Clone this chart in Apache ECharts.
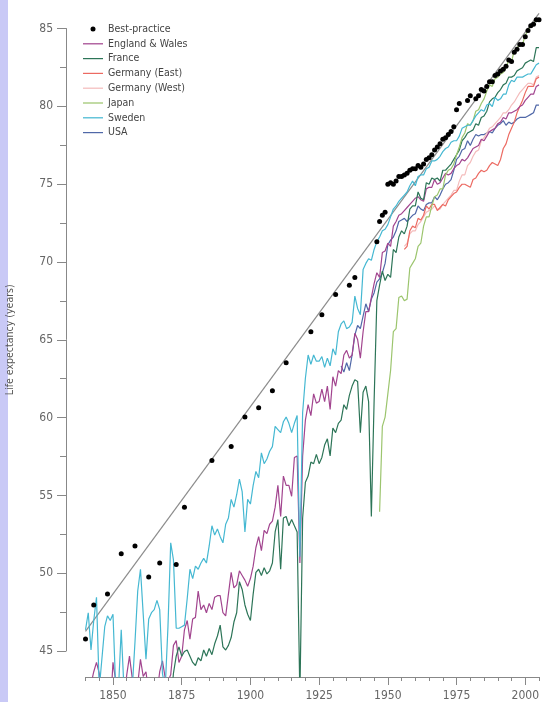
<!DOCTYPE html>
<html>
<head>
<meta charset="utf-8">
<title>Life expectancy</title>
<script src="https://cdn.jsdelivr.net/npm/echarts@6/dist/echarts.min.js"></script>
<style>
html, body { margin: 0; padding: 0; background: #fff; }
#main { width: 542px; height: 702px; }
</style>
</head>
<body>
<div id="main"></div>
<script>
// 刻度
var xMajor = [1850, 1875, 1900, 1925, 1950, 1975, 2000];

// 最佳实践（纪录）
var bestYears = [1840, 1843, 1848, 1853, 1858, 1863, 1867, 1873, 1876, 1886, 1893, 1898, 1903, 1908, 1913,
	1922, 1926, 1931, 1936, 1938, 1946, 1947, 1948, 1949,
	1950, 1951, 1952, 1953, 1954, 1955, 1956, 1957, 1958, 1959, 1960, 1961, 1962, 1963, 1964, 1965, 1966,
	1967, 1968, 1969, 1970, 1971, 1972, 1973, 1974, 1975, 1976, 1979, 1980, 1982, 1983, 1984,
	1985, 1986, 1987, 1988, 1989, 1990, 1991, 1992, 1993, 1994, 1995, 1996, 1997, 1998, 1999, 2000,
	2001, 2002, 2003, 2004, 2005];
var bestValues = [45.7, 47.9, 48.6, 51.2, 51.7, 49.7, 50.6, 50.5, 54.2, 57.2, 58.1, 60.0, 60.6, 61.7, 63.5,
	65.5, 66.6, 67.9, 68.5, 69.0, 71.3, 72.6, 73.0, 73.2,
	75.0, 75.1, 75.0, 75.2, 75.5, 75.5, 75.6, 75.7, 75.9, 76.0, 76.0, 76.2, 76.1, 76.3, 76.6, 76.7, 76.9,
	77.2, 77.4, 77.6, 77.9, 78.0, 78.2, 78.4, 78.7, 79.8, 80.2, 80.4, 80.7, 80.5, 80.7, 81.1,
	81.0, 81.3, 81.6, 81.6, 82.0, 82.1, 82.3, 82.4, 82.6, 83.0, 82.9, 83.5, 83.7, 84.0, 84.0, 84.5,
	84.9, 85.2, 85.3, 85.6, 85.6];

// 线性趋势（两端）
var trendYears = [1840, 2005];
var trendValues = [46.2, 86.0];

// 各国（按年，自起始年开始）
var englandStart = 1841;
var england = [42.5, 42.8, 43.6, 44.2, 43.5, 42.0, 41.2, 42.2, 41.0,
	44.2, 43.0, 42.2, 42.0, 41.6, 43.4, 44.6, 43.2, 42.0, 42.8,
	44.4, 43.3, 43.6, 42.2, 41.8, 42.2, 42.2, 43.6, 44.3, 43.2,
	43.0, 43.4, 45.3, 45.6, 44.2, 44.6, 46.3, 46.9, 45.7, 47.0,
	47.1, 48.8, 47.6, 47.9, 47.4, 48.0, 47.6, 48.4, 48.5, 48.5,
	47.4, 47.2, 48.6, 50.0, 49.0, 49.2, 50.1, 49.8, 49.5, 49.1,
	49.6, 50.4, 51.6, 52.3, 51.4, 52.7, 52.5, 53.1, 53.3, 54.2,
	55.6, 53.6, 56.2, 55.6, 55.6, 54.9, 57.4, 57.5, 50.6, 57.5,
	59.8, 60.8, 60.1, 61.5, 60.9, 61.0, 61.8, 61.0, 62.0, 60.5,
	62.6, 62.0, 63.0, 62.8, 64.0, 64.3, 63.8, 64.0, 65.4, 65.0,
	63.8, 65.5, 66.8, 66.8, 67.7, 68.6, 69.3, 69.0, 70.6, 70.7,
	71.2, 71.0, 72.3, 72.6, 73.0, 73.1, 73.3, 73.5, 73.7, 73.9,
	74.1, 74.2, 74.0, 73.9, 74.7, 74.8, 74.8, 75.3, 75.0, 75.1,
	75.4, 75.7, 75.6, 75.7, 76.0, 76.2, 76.3, 76.6, 76.5, 76.7,
	77.0, 77.3, 77.4, 77.5, 77.9, 77.8, 78.1, 78.4, 78.5, 78.6,
	78.9, 79.0, 79.3, 79.2, 79.6, 79.6, 79.7, 79.8, 80.0, 80.1,
	80.4, 80.6, 80.8, 80.8, 81.3, 81.4];

var franceStart = 1870;
var france = [41.0, 41.5, 43.5, 44.6, 45.2, 44.6, 44.9, 45.0, 44.6, 44.2,
	44.0, 44.5, 44.3, 45.0, 44.6, 45.1, 44.7, 45.4, 45.9, 46.6,
	45.2, 45.0, 45.3, 45.8, 46.8, 47.4, 49.4, 48.9, 47.9, 47.3,
	46.9, 48.6, 50.0, 50.2, 49.8, 50.3, 49.9, 50.1, 50.6, 52.6,
	53.4, 50.2, 53.5, 53.6, 53.0, 53.4, 53.0, 52.6, 42.0, 53.5,
	55.8, 56.2, 57.1, 57.0, 57.6, 57.0, 57.4, 58.2, 58.6, 57.5,
	59.3, 59.0, 59.6, 59.8, 60.8, 60.5, 61.4, 62.0, 62.4, 62.3,
	59.0, 61.6, 62.0, 61.0, 53.6, 61.0, 67.5, 68.5, 69.4, 68.8,
	69.2, 69.0, 70.8, 70.6, 71.6, 72.0, 71.8, 72.3, 73.4, 73.6,
	73.6, 74.5, 74.1, 74.0, 75.1, 75.0, 75.4, 75.3, 75.4, 75.2,
	75.9, 75.9, 76.1, 76.3, 76.6, 76.9, 77.2, 77.8, 78.0, 78.3,
	78.4, 78.5, 78.9, 78.8, 79.3, 79.4, 79.7, 80.3, 80.5, 80.6,
	80.9, 81.1, 81.4, 81.5, 81.9, 81.9, 82.0, 82.3, 82.4, 82.5,
	82.8, 82.9, 83.0, 82.9, 83.8, 83.8];

var gerEastStart = 1956;
var gerEast = [70.8, 71.0, 72.0, 72.3,
	72.2, 72.8, 72.7, 73.0, 73.6, 73.4, 73.7, 73.7, 73.3, 73.5,
	73.7, 73.6, 74.0, 74.2, 74.4, 74.5, 74.8, 75.0, 75.0, 74.9,
	74.8, 75.3, 75.4, 75.7, 75.9, 75.8, 75.9, 76.2, 76.4, 76.3,
	76.2, 76.6, 77.3, 77.6, 78.2, 78.6, 79.0, 79.6, 80.0, 80.4,
	80.9, 81.3, 81.3, 81.3, 81.8, 81.9];

var gerWestStart = 1956;
var gerWest = [71.0, 71.2, 71.8, 72.0,
	72.0, 72.4, 72.6, 72.9, 73.2, 73.3, 73.4, 73.6, 73.4, 73.4,
	73.7, 73.9, 74.1, 74.3, 74.6, 74.6, 75.2, 75.6, 75.6, 76.2,
	76.4, 76.8, 77.1, 77.2, 77.8, 78.0, 78.3, 78.6, 78.7, 78.9,
	79.1, 79.3, 79.6, 79.6, 79.8, 80.1, 80.3, 80.6, 80.9, 81.1,
	81.3, 81.5, 81.5, 81.4, 81.9, 82.0];

var japanStart = 1947;
var japan = [53.9, 59.4, 60.0,
	61.5, 63.0, 65.5, 65.7, 67.7, 67.8, 67.5, 67.6, 69.6, 69.9,
	70.2, 71.0, 71.2, 72.3, 72.9, 72.9, 73.6, 74.2, 74.3, 74.7,
	74.7, 75.6, 75.9, 76.0, 76.3, 76.9, 77.4, 78.0, 78.3, 78.9,
	78.8, 79.1, 79.7, 79.8, 80.2, 80.5, 81.0, 81.4, 81.3, 81.8,
	81.9, 82.1, 82.2, 82.5, 83.0, 82.9, 83.6, 83.8, 84.0, 84.0,
	84.6, 84.9, 85.2, 85.3, 85.6, 85.5];

var swedenStart = 1840;
var sweden = [46.3, 47.4, 45.0, 46.9, 48.4, 42.5, 44.5, 46.5, 47.2, 46.9,
	47.3, 42.5, 42.5, 46.3, 42.5, 42.5, 42.5, 42.5, 45.5, 48.8,
	50.2, 47.3, 44.4, 47.0, 47.4, 47.6, 48.2, 47.6, 43.5, 42.5,
	46.5, 51.9, 50.8, 46.4, 46.4, 46.5, 46.6, 48.3, 50.2, 49.6,
	50.4, 50.2, 50.6, 50.9, 50.6, 51.7, 53.0, 52.4, 52.8, 52.3,
	51.9, 53.1, 53.5, 54.7, 54.2, 55.0, 56.0, 55.2, 52.6, 54.7,
	54.4, 55.6, 56.5, 56.1, 57.7, 57.0, 57.3, 57.8, 58.1, 59.4,
	59.2, 59.0, 59.7, 60.0, 59.6, 59.0, 59.6, 60.1, 51.0, 60.3,
	62.5, 64.0, 63.4, 64.0, 63.6, 63.6, 63.9, 63.2, 63.8, 63.3,
	64.4, 64.0, 65.5, 66.0, 66.2, 65.7, 65.8, 66.1, 67.8, 67.0,
	66.6, 69.5, 69.9, 70.2, 70.1, 70.8, 71.3, 71.6, 72.0, 72.1,
	72.4, 72.9, 73.4, 73.6, 73.9, 74.1, 74.3, 74.5, 74.9, 75.2,
	74.9, 75.5, 75.6, 75.6, 76.0, 76.1, 76.5, 76.5, 76.6, 76.8,
	77.1, 77.3, 77.4, 77.7, 77.8, 77.8, 78.1, 78.6, 78.7, 78.8,
	78.8, 79.1, 79.4, 79.6, 79.8, 79.7, 80.1, 80.2, 80.0, 80.6,
	80.4, 80.5, 80.8, 80.8, 81.4, 81.7, 81.6, 81.9, 81.9, 81.9,
	82.0, 82.1, 82.1, 82.4, 82.7, 82.8];

var usaStart = 1933;
var usa = [63.3, 62.9, 63.5, 63.0, 64.0, 65.3, 65.9,
	65.7, 66.5, 67.3, 66.8, 67.6, 68.0, 68.7, 68.9, 69.3, 69.9,
	71.1, 71.4, 71.6, 72.0, 72.6, 72.7, 72.8, 72.6, 72.8, 73.0,
	73.1, 73.6, 73.4, 73.3, 73.7, 73.8, 73.8, 74.2, 74.0, 74.3,
	74.7, 75.0, 75.1, 75.3, 75.9, 76.6, 76.8, 77.2, 77.3, 77.8,
	77.5, 77.9, 78.2, 78.1, 78.2, 78.2, 78.3, 78.4, 78.3, 78.6,
	78.8, 78.9, 79.1, 78.8, 79.0, 78.9, 79.0, 79.2, 79.3, 79.3,
	79.3, 79.4, 79.5, 79.6, 80.1, 80.1];

var font = '"Liberation Sans Narrow", "DejaVu Sans Condensed", sans-serif';
// 图例里的细线
var lineIcon = 'path://M0,0H21V1.3H0Z';

// 年份 + 数值 => 坐标对
function byYear(start, vals) {
	return vals.map(function (v, i) { return [start + i, v]; });
}
function zip(xs, ys) {
	return xs.map(function (x, i) { return [x, ys[i]]; });
}
function country(name, color, start, vals) {
	return {
		name: name,
		type: 'line',
		xAxisIndex: 0,
		yAxisIndex: 0,
		symbol: 'none',
		clip: true,
		lineStyle: { color: color, width: 1.2 },
		itemStyle: { color: color },
		data: byYear(start, vals)
	};
}

var chart = echarts.init(document.getElementById('main'));

chart.setOption({
	animation: false,
	backgroundColor: '#fff',
	graphic: [{
		type: 'rect',
		left: 0, top: 0,
		shape: { width: 8, height: 702 },
		style: { fill: '#c9c9f6' },
		silent: true
	}],
	legend: {
		orient: 'vertical',
		left: 83,
		top: 23,
		padding: 0,
		itemWidth: 20,
		itemHeight: 5,
		itemGap: 2.8,
		textStyle: { fontFamily: font, fontSize: 10.5, color: '#444', lineHeight: 12 },
		data: [
			{ name: 'Best-practice' },
			{ name: 'England & Wales', icon: lineIcon },
			{ name: 'France', icon: lineIcon },
			{ name: 'Germany (East)', icon: lineIcon },
			{ name: 'Germany (West)', icon: lineIcon },
			{ name: 'Japan', icon: lineIcon },
			{ name: 'Sweden', icon: lineIcon },
			{ name: 'USA', icon: lineIcon }
		]
	},
	grid: [
		{ left: 85.5, right: 2.3, top: 13.45, bottom: 24 },
		{ left: 66, top: 28.5, bottom: 51, width: 20 }
	],
	xAxis: [
		{
			gridIndex: 0, type: 'value', position: 'bottom',
			min: 1840, max: 2005, interval: 5,
			axisLine: { lineStyle: { color: '#888' } },
			axisTick: { length: 4, lineStyle: { color: '#888' } },
			axisLabel: { show: false },
			splitLine: { show: false }
		},
		{
			gridIndex: 0, type: 'value', position: 'bottom',
			min: 1840, max: 2005,
			axisLine: { show: false },
			axisTick: { length: 8, customValues: xMajor, lineStyle: { color: '#888' } },
			axisLabel: {
				customValues: xMajor, margin: 13, fontFamily: font, fontSize: 12, color: '#666',
				formatter: function (v) { return String(v); }
			},
			splitLine: { show: false }
		},
		{ gridIndex: 1, type: 'value', show: false }
	],
	yAxis: [
		{ gridIndex: 0, type: 'value', min: 43.26, max: 86, show: false },
		{
			gridIndex: 1, type: 'value', min: 45, max: 85, interval: 5,
			name: 'Life expectancy (years)',
			nameLocation: 'middle',
			nameGap: 50,
			nameTextStyle: { fontFamily: font, fontSize: 10.5, color: '#555' },
			axisLine: { show: true, lineStyle: { color: '#888' } },
			axisTick: { show: true, length: 9, lineStyle: { color: '#888' } },
			minorTick: { show: true, splitNumber: 2, length: 6, lineStyle: { color: '#888' } },
			axisLabel: { margin: 13, fontFamily: font, fontSize: 12, color: '#666' },
			splitLine: { show: false }
		}
	],
	series: [
		{
			name: 'trend',
			type: 'line',
			xAxisIndex: 0, yAxisIndex: 0,
			symbol: 'none',
			silent: true,
			lineStyle: { color: '#8c8c8c', width: 1.2 },
			data: zip(trendYears, trendValues)
		},
		country('USA', '#5068a8', usaStart, usa),
		country('Germany (West)', '#f4bcbc', gerWestStart, gerWest),
		country('Germany (East)', '#ec6a62', gerEastStart, gerEast),
		country('England & Wales', '#a2458f', englandStart, england),
		country('France', '#2d7558', franceStart, france),
		country('Japan', '#9cc56e', japanStart, japan),
		country('Sweden', '#45b8d2', swedenStart, sweden),
		{
			name: 'Best-practice',
			type: 'scatter',
			xAxisIndex: 0, yAxisIndex: 0,
			symbol: 'circle',
			symbolSize: 5,
			z: 5,
			itemStyle: { color: '#000', opacity: 1 },
			data: zip(bestYears, bestValues)
		}
	]
});
</script>
</body>
</html>
